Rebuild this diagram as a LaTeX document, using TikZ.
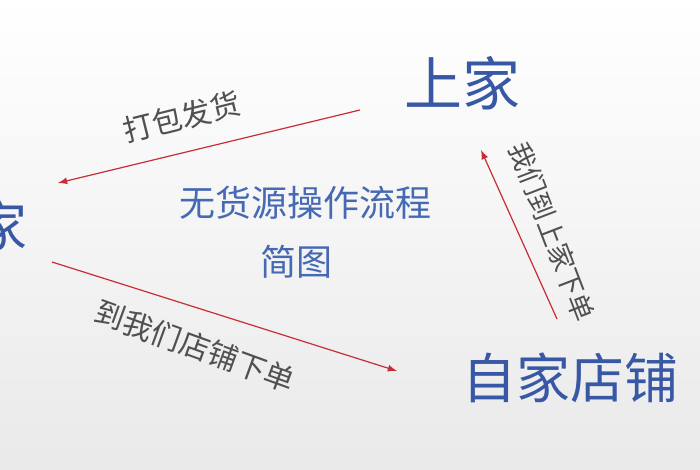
\documentclass[tikz,border=0pt]{standalone}
\usepackage{fontspec}
\newfontfamily\cjk{Noto Sans CJK SC}
\usepackage{xcolor}
\usetikzlibrary{positioning,arrows}
\definecolor{nameblue}{RGB}{56,88,165}
\definecolor{titleblue}{RGB}{70,105,180}
\definecolor{labelgray}{RGB}{80,80,80}
\definecolor{flowred}{RGB}{200,45,55}

\begin{document}
\begin{tikzpicture}[
  x=0.5pt, y=-0.5pt,
  party/.style={font=\cjk\fontsize{27}{30}\selectfont,text=nameblue,inner sep=0pt},
  titletext/.style={font=\cjk\fontsize{18}{21}\selectfont,text=titleblue,inner sep=0pt},
  steplabel/.style={font=\cjk\fontsize{15}{18}\selectfont,text=labelgray,inner sep=0pt},
  flow/.style={draw=flowred,line width=0.6pt,-latex}
    ]
\shade[top color=white,bottom color=gray!17] (0,0) rectangle (700,470);
\useasboundingbox (0,0) rectangle (700,470);
\clip (0,0) rectangle (700,470);

\node[party,font=\cjk\fontsize{29}{32}\selectfont] (shang) at (462,83) {上家};
\node[party] (mai) at (1,226) {家};
\node[party] (store) at (570,378) {自家店铺};
\node[titletext] (title) at (305,203) {无货源操作流程};
\node[titletext] (sub) at (296,262) {简图};

\node[steplabel,rotate=14] (pack) at (182,117) {打包发货};
\node[steplabel,rotate=-20] (order) at (195,346) {到我们店铺下单};
\node[steplabel,rotate=-69,font=\cjk\fontsize{13.5}{16}\selectfont] (buy) at (552,232) {我们到上家下单};

\coordinate (shangout) at (360,110);
\coordinate (maiin) at (58,183);
\coordinate (maiout) at (52,262);
\coordinate (storein) at (397,371);
\coordinate (storeout) at (557,319);
\coordinate (shangin) at (481,150);
\path (shangout) edge[flow] (maiin)
(maiout) edge[flow] (storein)
(storeout) edge[flow] (shangin);
\end{tikzpicture}
\end{document}
